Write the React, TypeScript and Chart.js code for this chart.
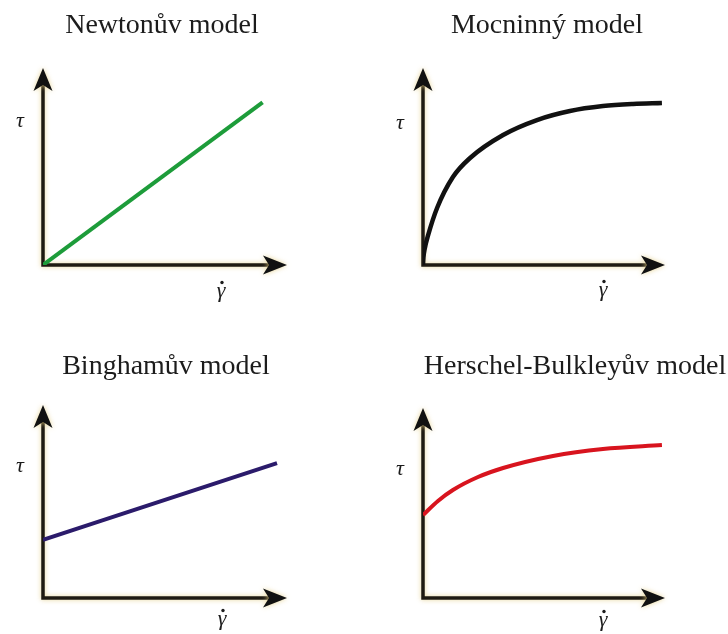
import React, { useEffect, useRef } from "react";
import { Chart, registerables } from "chart.js";

Chart.register(...registerables);

// ---- Data ----
const titles = ["Newtonův model", "Mocninný model", "Binghamův model", "Herschel-Bulkleyův model"];

const newtonX = [0, 9.9];
const newtonY = [0, 9.9];

const powerX = [0, 0.02, 0.08, 0.23, 0.64, 1.36, 2.14, 3.64, 5.18, 6.68, 8.18, 9.55, 10.86];
const powerY = [0, 0.45, 1.0, 1.8, 3.47, 5.36, 6.52, 7.92, 8.83, 9.38, 9.68, 9.81, 9.87];

const binghamX = [0, 10.55];
const binghamY = [3.61, 8.39];

const hbX = [0, 0.68, 1.36, 2.5, 3.64, 5.91, 8.18, 10.86];
const hbY = [5.24, 6.13, 6.82, 7.64, 8.21, 8.97, 9.41, 9.66];

const seriesX = [newtonX, powerX, binghamX, hbX];
const seriesY = [newtonY, powerY, binghamY, hbY];
const lineColors = ["#1d9c3a", "#111111", "#2b1b6b", "#d8141e"];
const lineWidths = [4, 4.5, 4, 4];

const yAxisLabel = "τ";
const xAxisLabel = "γ";

const X_MAX = 11;
const Y_MAX = 12;

// ---- Layout (per panel) ----
const W = 364;
const H = 317;
const panels = [
  { left: 0, top: 0, pad: { left: 43, top: 68, right: 77, bottom: 52 }, titleX: 162, titleY: 33, tauDy: 59, gammaDx: 66, gammaDy: 32 },
  { left: 364, top: 0, pad: { left: 59, top: 68, right: 63, bottom: 52 }, titleX: 183, titleY: 33, tauDy: 61, gammaDx: 62, gammaDy: 31 },
  { left: 0, top: 317, pad: { left: 43, top: 88, right: 77, bottom: 36 }, titleX: 166, titleY: 57, tauDy: 67, gammaDx: 65, gammaDy: 27 },
  { left: 364, top: 317, pad: { left: 59, top: 91, right: 63, bottom: 36 }, titleX: 211, titleY: 57, tauDy: 67, gammaDx: 62, gammaDy: 28 },
];

function makeDecorPlugin(idx: number) {
  const p = panels[idx];
  return {
    id: "decor" + idx,
    beforeDatasetsDraw(chart: any) {
      const ctx = chart.ctx as CanvasRenderingContext2D;
      const a = chart.chartArea;
      ctx.save();
      // title
      ctx.fillStyle = "#1c1c1c";
      ctx.font = '28px "Liberation Serif", "Times New Roman", serif';
      ctx.textAlign = "center";
      ctx.textBaseline = "alphabetic";
      ctx.fillText(titles[idx], p.titleX, p.titleY);

      // axes with soft cream halo
      ctx.shadowColor = "rgba(226,204,130,0.85)";
      ctx.shadowBlur = 5;
      ctx.strokeStyle = "#1e1a12";
      ctx.fillStyle = "#111";
      ctx.lineWidth = 3.5;
      ctx.lineCap = "butt";
      ctx.beginPath();
      ctx.moveTo(a.left, a.top + 14);
      ctx.lineTo(a.left, a.bottom);
      ctx.lineTo(a.right - 14, a.bottom);
      ctx.stroke();
      // arrow up
      ctx.beginPath();
      ctx.moveTo(a.left, a.top);
      ctx.lineTo(a.left + 9.5, a.top + 23);
      ctx.lineTo(a.left, a.top + 17);
      ctx.lineTo(a.left - 9.5, a.top + 23);
      ctx.closePath();
      ctx.fill();
      // arrow right
      ctx.beginPath();
      ctx.moveTo(a.right, a.bottom);
      ctx.lineTo(a.right - 24, a.bottom - 9.5);
      ctx.lineTo(a.right - 18, a.bottom);
      ctx.lineTo(a.right - 24, a.bottom + 9.5);
      ctx.closePath();
      ctx.fill();
      ctx.shadowBlur = 0;
      ctx.shadowColor = "transparent";

      // axis labels
      ctx.fillStyle = "#1c1c1c";
      ctx.font = 'italic 22px "Liberation Serif", "Times New Roman", serif';
      ctx.textAlign = "center";
      ctx.fillText(yAxisLabel, a.left - 23, a.top + p.tauDy);
      const gx = a.right - p.gammaDx;
      const gy = a.bottom + p.gammaDy;
      ctx.fillText(xAxisLabel, gx, gy);
      ctx.beginPath();
      ctx.arc(gx + 1, gy - 14.5, 1.7, 0, Math.PI * 2);
      ctx.fill();
      ctx.restore();
    },
  };
}

function Panel({ idx }: { idx: number }) {
  const ref = useRef<HTMLCanvasElement>(null);
  useEffect(() => {
    const p = panels[idx];
    const pts = seriesX[idx].map((x, i) => ({ x, y: seriesY[idx][i] }));
    const chart = new Chart(ref.current as HTMLCanvasElement, {
      type: "line",
      data: {
        datasets: [
          {
            data: pts,
            borderColor: lineColors[idx],
            borderWidth: lineWidths[idx],
            pointRadius: 0,
            fill: false,
            cubicInterpolationMode: "monotone",
            borderCapStyle: "butt",
          } as any,
        ],
      },
      options: {
        responsive: false,
        animation: false,
        devicePixelRatio: 1,
        layout: { padding: p.pad },
        plugins: { legend: { display: false }, title: { display: false }, tooltip: { enabled: false } },
        scales: {
          x: { type: "linear", min: 0, max: X_MAX, display: false },
          y: { type: "linear", min: 0, max: Y_MAX, display: false },
        },
        events: [],
      },
      plugins: [makeDecorPlugin(idx)],
    });
    return () => chart.destroy();
  }, [idx]);
  const p = panels[idx];
  return (
    <canvas
      ref={ref}
      width={W}
      height={H}
      style={{ position: "absolute", left: p.left, top: p.top, width: W, height: H }}
    />
  );
}

export default function App() {
  return (
    <div style={{ position: "absolute", left: 0, top: 0, width: 728, height: 634, background: "#fff", overflow: "hidden" }}>
      {panels.map((_, i) => (
        <Panel key={i} idx={i} />
      ))}
    </div>
  );
}
